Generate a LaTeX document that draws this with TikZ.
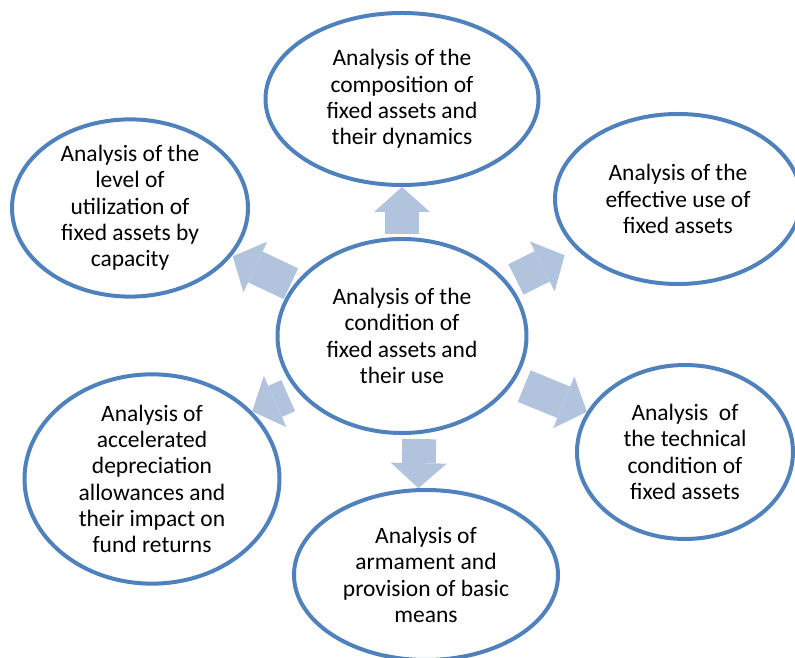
\documentclass[tikz,border=0pt]{standalone}
\usepackage{fontspec}
\setmainfont{Carlito}
\usepackage{tikz}
\usetikzlibrary{arrows.meta,shapes}
\definecolor{topicblue}{RGB}{79,129,189}
\definecolor{arrowblue}{RGB}{178,195,222}
\begin{document}
\begin{tikzpicture}[>=latex,join=bevel,]
\tikzstyle{topic}=[ellipse,draw=topicblue,line width=4bp,fill=white,inner sep=0pt,align=center,
  font=\fontsize{23.5bp}{26.3bp}\selectfont]%
\tikzstyle{blockarrow}=[draw=arrowblue,line width=34bp,
  -{Triangle[width=56bp,length=25bp,line width=0pt]}]%
  \useasboundingbox (0bp,0bp) rectangle (795bp,658bp);
  \node (ctr) at (402bp,322bp) [topic,minimum width=249bp,minimum height=194bp] {Analysis of the\\condition of\\fixed assets and\\their use};
  \node (top) at (402bp,559bp) [topic,minimum width=273bp,minimum height=172bp] {Analysis of the\\composition of\\fixed assets and\\their dynamics};
  \node (lft) at (130bp,450bp) [topic,minimum width=236bp,minimum height=170bp] {Analysis of the\\level of\\utilization of\\fixed assets by\\capacity};
  \node (rgt) at (678bp,459bp) [topic,minimum width=246bp,minimum height=170bp] {Analysis of the\\effective use of\\fixed assets};
  \node (lwr) at (685bp,206bp) [topic,minimum width=216bp,minimum height=174bp] {Analysis\ \ of\\the technical\\condition of\\fixed assets};
  \node (lwl) at (152bp,179bp) [topic,minimum width=255bp,minimum height=172bp] {Analysis of\\accelerated\\depreciation\\allowances and\\their impact on\\fund returns};
  \node (bot) at (426bp,83bp) [topic,minimum width=264bp,minimum height=170bp] {Analysis of\\armament and\\provision of basic\\means};

  \draw [blockarrow,shorten <=3bp] (ctr) to (top);
  \draw [blockarrow,shorten <=3bp,shorten >=1bp] (ctr) to (lft);
  \draw [blockarrow,shorten <=8bp,shorten >=13bp] (ctr) to (rgt);
  \draw [blockarrow,shorten <=11bp] (ctr) to (lwr);
  \draw [blockarrow,shorten <=5bp] (ctr.-80) to (bot.95);
  \draw [blockarrow,shorten <=10bp] (ctr.208) to (lwl.34);

\end{tikzpicture}
\end{document}
